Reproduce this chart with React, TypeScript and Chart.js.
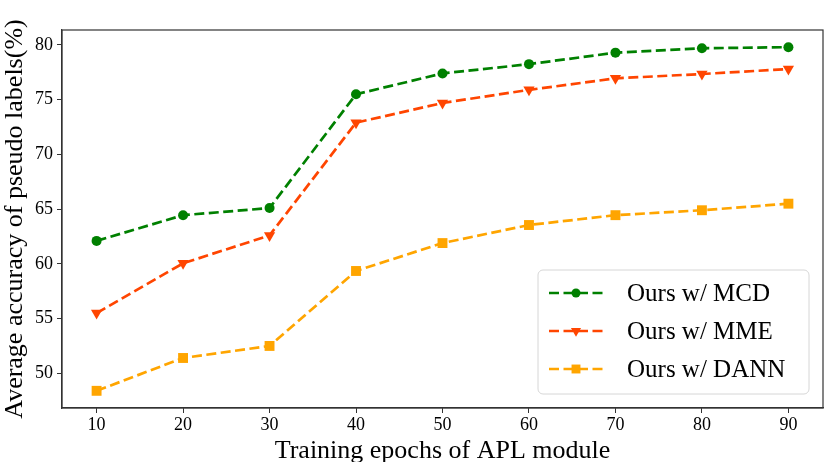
import { useEffect, useRef } from "react";
import { Chart, ChartConfiguration, registerables, Plugin } from "chart.js";
import { drawPoint } from "chart.js/helpers";

Chart.register(...registerables);

const epochs = [10, 20, 30, 40, 50, 60, 70, 80, 90];
const mcdAcc = [62.1, 64.45, 65.1, 75.5, 77.4, 78.25, 79.3, 79.7, 79.8];
const mmeAcc = [55.5, 60.05, 62.6, 72.9, 74.7, 75.9, 76.95, 77.35, 77.8];
const dannAcc = [48.4, 51.4, 52.5, 59.35, 61.9, 63.55, 64.45, 64.9, 65.5];
const seriesNames = ["Ours w/ MCD", "Ours w/ MME", "Ours w/ DANN"];
const xTicks = [10, 20, 30, 40, 50, 60, 70, 80, 90];
const yTicks = [50, 55, 60, 65, 70, 75, 80];

const FONT = "'Liberation Serif', 'Times New Roman', serif";
const AXIS = "#333333";

// box round the plot, like matplotlib spines, plus the legend inside it
const frameAndLegend: Plugin = {
  id: "frameAndLegend",
  afterDraw(chart) {
    const { ctx, chartArea } = chart;
    ctx.save();
    ctx.strokeStyle = AXIS;
    ctx.lineWidth = 1.2;
    ctx.strokeRect(chartArea.left, chartArea.top, chartArea.right - chartArea.left, chartArea.bottom - chartArea.top);

    const bx = 538, by = 270, bw = 271, bh = 124;
    ctx.beginPath();
    ctx.roundRect(bx, by, bw, bh, 5);
    ctx.fillStyle = "rgba(255,255,255,0.85)";
    ctx.fill();
    ctx.strokeStyle = "#d6d6d6";
    ctx.lineWidth = 1;
    ctx.stroke();

    chart.data.datasets.forEach((ds: any, i) => {
      const y = 293 + i * 38;
      ctx.strokeStyle = ds.borderColor;
      ctx.lineWidth = ds.borderWidth;
      ctx.setLineDash(ds.borderDash);
      ctx.beginPath();
      ctx.moveTo(549, y);
      ctx.lineTo(603, y);
      ctx.stroke();
      ctx.setLineDash([]);
      ctx.fillStyle = ds.borderColor;
      drawPoint(ctx, {
        pointStyle: ds.pointStyle,
        radius: ds.pointRadius * 0.9,
        rotation: ds.pointRotation || 0,
        borderWidth: 0,
      }, 576, y);
      ctx.fillStyle = "#000";
      ctx.font = `25px ${FONT}`;
      ctx.textBaseline = "middle";
      ctx.textAlign = "left";
      ctx.fillText(ds.label, 627, y + 1);
    });
    ctx.restore();
  },
};

export default function App() {
  const chartRef = useRef<HTMLCanvasElement>(null);
  const chartInstance = useRef<Chart | null>(null);

  useEffect(() => {
    document.body.style.margin = "0";
    if (!chartRef.current) return;
    if (chartInstance.current) chartInstance.current.destroy();
    const ctx = chartRef.current.getContext("2d");
    if (!ctx) return;

    const toPoints = (vals: number[]) => epochs.map((e, i) => ({ x: e, y: vals[i] }));
    const line = {
      borderWidth: 2.7,
      borderDash: [10, 4.5],
      showLine: true,
      fill: false,
      tension: 0,
      pointBorderWidth: 0,
    };

    const config: ChartConfiguration = {
      type: "scatter",
      data: {
        datasets: [
          {
            ...line,
            label: seriesNames[0],
            data: toPoints(mcdAcc),
            borderColor: "#008000",
            backgroundColor: "#008000",
            pointStyle: "circle",
            pointRadius: 5,
          },
          {
            ...line,
            label: seriesNames[1],
            data: toPoints(mmeAcc),
            borderColor: "#ff4500",
            backgroundColor: "#ff4500",
            pointStyle: "triangle",
            pointRotation: 180,
            pointRadius: 6.5,
          },
          {
            ...line,
            label: seriesNames[2],
            data: toPoints(dannAcc),
            borderColor: "#ffa500",
            backgroundColor: "#ffa500",
            pointStyle: "rect",
            pointRadius: 7,
          },
        ] as any,
      },
      options: {
        responsive: false,
        animation: false,
        devicePixelRatio: 1,
        layout: { padding: { left: 0, top: 30, right: 8, bottom: 0 } },
        plugins: {
          legend: { display: false },
          tooltip: { enabled: false },
        },
        scales: {
          x: {
            type: "linear",
            min: 6,
            max: 94,
            afterBuildTicks: (s: any) => {
              s.ticks = xTicks.map((v) => ({ value: v }));
            },
            afterFit: (s: any) => {
              s.height = 54;
            },
            grid: { display: true, drawOnChartArea: false, tickLength: 5, color: AXIS, tickColor: AXIS },
            border: { display: true, color: AXIS, width: 1.2 },
            ticks: { color: "#000", font: { family: FONT, size: 18 }, padding: 1, maxRotation: 0 },
            title: {
              display: true,
              text: "Training epochs of APL module",
              color: "#000",
              font: { family: FONT, size: 26 },
              padding: { top: 0, bottom: -5 },
            },
          },
          y: {
            type: "linear",
            min: 46.83,
            max: 81.37,
            afterBuildTicks: (s: any) => {
              s.ticks = yTicks.map((v) => ({ value: v }));
            },
            afterFit: (s: any) => {
              s.width = 62;
            },
            grid: { display: true, drawOnChartArea: false, tickLength: 5, color: AXIS, tickColor: AXIS },
            border: { display: true, color: AXIS, width: 1.2 },
            ticks: { color: "#000", font: { family: FONT, size: 18 }, padding: 4 },
            title: {
              display: true,
              text: "Average accuracy of pseudo labels(%)",
              color: "#000",
              font: { family: FONT, size: 26 },
              padding: { top: 0, bottom: 0 },
            },
          },
        },
      },
      plugins: [frameAndLegend],
    };

    chartInstance.current = new Chart(ctx, config);
    return () => {
      if (chartInstance.current) {
        chartInstance.current.destroy();
        chartInstance.current = null;
      }
    };
  }, []);

  return (
    <div style={{ width: 831, height: 462, background: "#fff" }}>
      <canvas ref={chartRef} width={831} height={462} style={{ display: "block" }}></canvas>
    </div>
  );
}
